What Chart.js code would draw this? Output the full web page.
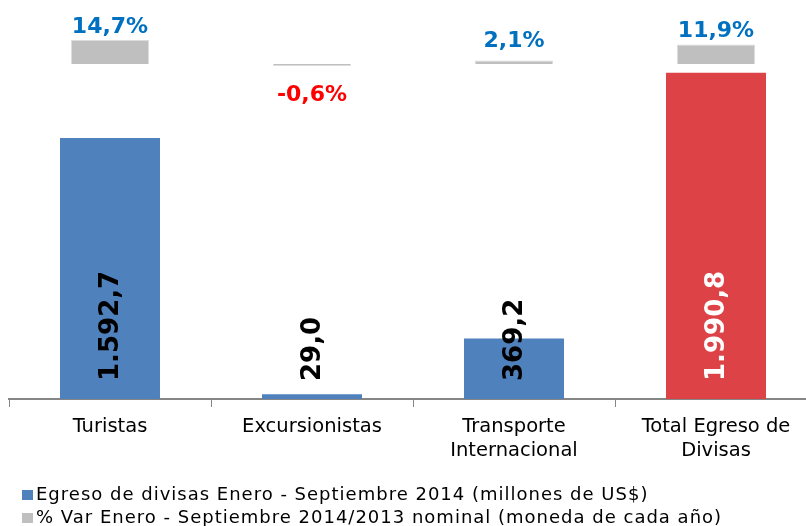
<!DOCTYPE html>
<html>
<head>
<meta charset="utf-8">
<script src="https://cdn.jsdelivr.net/npm/chart.js@4/dist/chart.umd.min.js"></script>
<style>
    body { margin: 0; background: #fff; overflow: hidden; width: 806px; height: 526px; }
    #wrap { position: relative; width: 820px; height: 526px; }
    #legend { position: absolute; left: 22px; top: 482px; font-family: "DejaVu Sans", sans-serif; font-size: 18px; letter-spacing: 1px; color: #000; }
    .lg-item { height: 23px; line-height: 23px; white-space: nowrap; }
    .lg-box { display: inline-block; width: 11px; height: 10px; margin-right: 3px; vertical-align: 0px; }
</style>
</head>
<body>
<div id="wrap">
    <canvas id="chart" width="820" height="526"></canvas>
    <div id="legend"></div>
</div>
<script>
// 1. ДАННЫЕ
const categories = ['Turistas', 'Excursionistas', ['Transporte', 'Internacional'], ['Total Egreso de', 'Divisas']];
const egresoValues = [1592.7, 29.0, 369.2, 1990.8];
const varValues = [14.7, -0.6, 2.1, 11.9];
const seriesNames = [
    'Egreso de divisas Enero - Septiembre 2014 (millones de US$)',
    '% Var Enero - Septiembre 2014/2013 nominal (moneda de cada año)'
];

// формат 1.592,7
function fmt(v) {
    const neg = v < 0;
    const parts = Math.abs(v).toFixed(1).split('.');
    const int = parts[0].replace(/\B(?=(\d{3})+(?!\d))/g, '.');
    return (neg ? '-' : '') + int + ',' + parts[1];
}

// 2. ПОДПИСИ НА СТОЛБЦАХ
const labelsPlugin = {
    id: 'barLabels',
    afterDatasetsDraw(chart) {
        const ctx = chart.ctx;
        // вертикальные подписи внутри столбцов
        const meta0 = chart.getDatasetMeta(0);
        meta0.data.forEach((bar, i) => {
            ctx.save();
            ctx.translate(bar.x + 1, bar.base - 18);
            ctx.rotate(-Math.PI / 2);
            ctx.font = 'bold 26px "DejaVu Sans"';
            ctx.fillStyle = i === 3 ? '#ffffff' : '#000000';
            ctx.textAlign = 'left';
            ctx.textBaseline = 'middle';
            ctx.fillText(fmt(egresoValues[i]), 0, 0);
            ctx.restore();
        });
        // проценты над серыми столбцами
        const meta1 = chart.getDatasetMeta(1);
        meta1.data.forEach((bar, i) => {
            const v = varValues[i];
            ctx.save();
            ctx.font = 'bold 22px "DejaVu Sans"';
            ctx.textAlign = 'center';
            if (v >= 0) {
                ctx.fillStyle = '#0070C0';
                ctx.textBaseline = 'alphabetic';
                ctx.fillText(fmt(v) + '%', bar.x, Math.min(bar.y, bar.base - 10) - 7);
            } else {
                ctx.fillStyle = '#FF0000';
                ctx.textBaseline = 'top';
                ctx.fillText(fmt(v) + '%', bar.x, bar.base + 20);
            }
            ctx.restore();
        });
    }
};

// 3. ГРАФИК
const ctx = document.getElementById('chart').getContext('2d');
const myChart = new Chart(ctx, {
    type: 'bar',
    data: {
        labels: categories,
        datasets: [{
            label: seriesNames[0],
            data: egresoValues,
            yAxisID: 'y',
            grouped: false,
            backgroundColor: ['#4F81BD', '#4F81BD', '#4F81BD', '#DC4246'],
            barPercentage: 0.495,
            categoryPercentage: 1,
            order: 2
        }, {
            label: seriesNames[1],
            data: varValues,
            yAxisID: 'y1',
            grouped: false,
            backgroundColor: '#BFBFBF',
            borderColor: '#DCDCDC',
            borderWidth: 1,
            minBarLength: 2,
            barPercentage: 0.386,
            categoryPercentage: 1,
            order: 1
        }]
    },
    options: {
        responsive: false,
        animation: false,
        layout: { padding: { left: 9, right: 3, top: 0, bottom: 55 } },
        plugins: { legend: { display: false }, tooltip: { enabled: false } },
        scales: {
            x: {
                grid: { drawOnChartArea: false, offset: true, tickLength: 8, color: '#868686', lineWidth: 1 },
                border: { color: '#868686', width: 2 },
                ticks: {
                    color: '#000',
                    padding: 8,
                    maxRotation: 0,
                    autoSkip: false,
                    font: { family: 'DejaVu Sans', size: 19.5, lineHeight: '24px' }
                }
            },
            y: { display: false, min: 0, max: 2435 },
            y1: { display: false, min: -204, max: 39 }
        }
    },
    plugins: [labelsPlugin]
});

// 4. ЛЕГЕНДА
const legendEl = document.getElementById('legend');
myChart.data.datasets.forEach((ds, i) => {
    const row = document.createElement('div');
    row.className = 'lg-item';
    const color = Array.isArray(ds.backgroundColor) ? ds.backgroundColor[0] : ds.backgroundColor;
    row.innerHTML = `<span class="lg-box" style="background:${color}"></span>${ds.label}`;
    legendEl.appendChild(row);
});
</script>
</body>
</html>
